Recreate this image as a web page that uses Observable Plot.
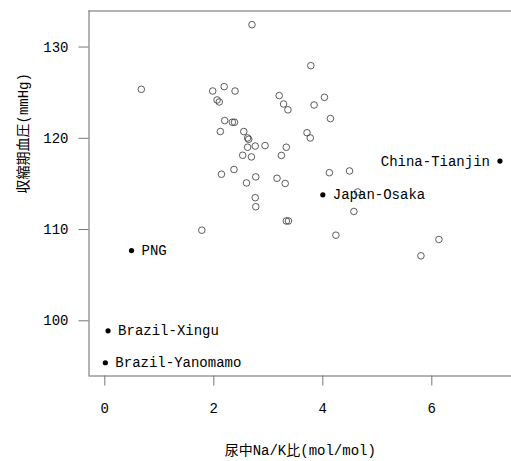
<!DOCTYPE html>
<html>
<head>
<meta charset="utf-8">
<script src="https://cdn.jsdelivr.net/npm/d3@7"></script>
<script src="https://cdn.jsdelivr.net/npm/@observablehq/plot@0.6"></script>
<style>
  html, body { margin: 0; padding: 0; background: #fff; overflow: hidden; }
</style>
</head>
<body>
<div id="chart"></div>
<script>
// Open circles: other centres (urinary Na/K ratio, systolic BP)
const openX = [2.70, 0.67, 1.98, 2.19, 2.39, 2.06, 2.10, 2.20, 2.34, 2.38,
               2.12, 2.55, 2.62, 2.64, 2.62, 2.76, 2.53, 2.69, 2.14, 2.37,
               2.60, 2.77, 2.76, 2.77, 1.78, 3.20, 3.28, 3.36, 3.71, 3.77,
               2.94, 3.33, 3.24, 3.16, 3.31, 3.78, 3.84, 4.03, 4.14, 4.12,
               4.49, 3.33, 3.37, 4.57, 4.64, 4.24, 6.13, 5.80];
const openY = [132.45, 125.37, 125.18, 125.66, 125.18, 124.20, 123.98, 121.94, 121.76, 121.76,
               120.74, 120.74, 120.04, 119.89, 119.02, 119.15, 118.14, 117.96, 116.06, 116.58,
               115.11, 115.77, 113.49, 112.50, 109.93, 124.68, 123.76, 123.12, 120.61, 120.04,
               119.20, 119.02, 118.12, 115.62, 115.05, 127.96, 123.65, 124.49, 122.16, 116.23,
               116.42, 110.94, 110.94, 111.98, 114.12, 109.38, 108.91, 107.12];

// Labelled (filled) centres
const labNames = ["China-Tianjin", "Japan-Osaka", "PNG", "Brazil-Xingu", "Brazil-Yanomamo"];
const labX = [7.25, 4.00, 0.49, 0.06, 0.01];
const labY = [117.5, 113.8, 107.7, 98.9, 95.4];
const labSide = ["left", "right", "right", "right", "right"];

const xTicks = [0, 2, 4, 6];
const yTicks = [100, 110, 120, 130];
const xDomain = [-0.29, 7.462];
const yDomain = [93.95, 133.95];
const xTitle = "尿中Na/K比(mol/mol)";
const yTitle = "収縮期血圧(mmHg)";

const openData = openX.map((x, i) => ({x, y: openY[i]}));
const labData = labNames.map((name, i) => ({name, x: labX[i], y: labY[i], side: labSide[i]}));

const font = "'Liberation Mono', 'Noto Sans CJK JP', monospace";

const chart = Plot.plot({
  width: 511,
  height: 461,
  marginLeft: 88.5,
  marginRight: 0,
  marginTop: 10.5,
  marginBottom: 85.5,
  style: {fontFamily: font, fontSize: "14px", background: "#fff", color: "#000"},
  x: {domain: xDomain, label: null},
  y: {domain: yDomain, label: null},
  marks: [
    Plot.ruleY([yDomain[0], yDomain[1]], {stroke: "#666", strokeWidth: 1}),
    Plot.ruleX([xDomain[0]], {stroke: "#666", strokeWidth: 1}),
    Plot.axisX(xTicks, {anchor: "bottom", tickSize: 10, tickPadding: 17, stroke: "#777", fill: "#000", fontSize: 14, label: null}),
    Plot.axisY(yTicks, {anchor: "left", tickSize: 10, tickPadding: 10.5, stroke: "#777", fill: "#000", fontSize: 14, label: null}),
    Plot.dot(openData, {x: "x", y: "y", r: 3.3, stroke: "#333", strokeWidth: 0.8, fill: "none"}),
    Plot.dot(labData, {x: "x", y: "y", r: 2.6, fill: "#000", stroke: "none"}),
    Plot.text(labData.filter(d => d.side === "right"), {x: "x", y: "y", text: "name", textAnchor: "start", dx: 10, fontSize: 14, fill: "#000"}),
    Plot.text(labData.filter(d => d.side === "left"), {x: "x", y: "y", text: "name", textAnchor: "end", dx: -10, fontSize: 14, fill: "#000"}),
    Plot.text([xTitle], {frameAnchor: "bottom", dy: 74.5, lineAnchor: "middle", fontSize: 14, fill: "#000"}),
    Plot.text([yTitle], {frameAnchor: "left", dx: -65.5, rotate: -90, lineAnchor: "middle", fontSize: 14, fill: "#000"})
  ]
});

document.getElementById("chart").appendChild(chart);
</script>
</body>
</html>
